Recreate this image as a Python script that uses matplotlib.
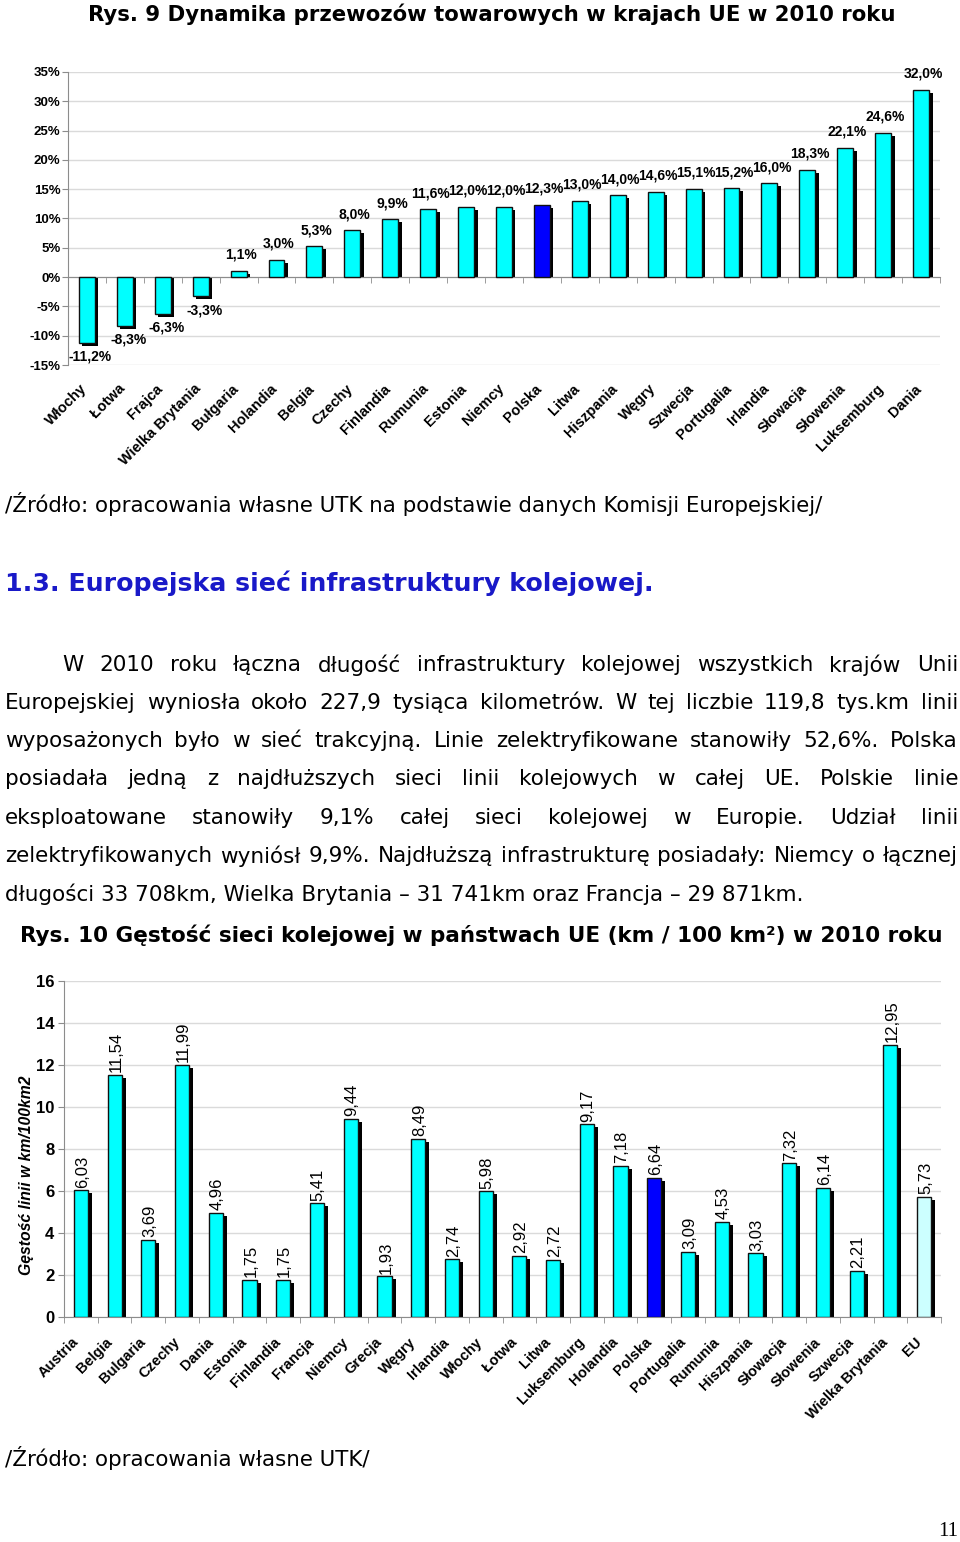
import matplotlib
matplotlib.use('Agg')
import matplotlib.pyplot as plt
import matplotlib.transforms as mtransforms
from matplotlib.ticker import FixedLocator

# ---------------- data ----------------
c1_countries = ['Włochy', 'Łotwa', 'Frajca', 'Wielka Brytania', 'Bułgaria', 'Holandia',
                'Belgia', 'Czechy', 'Finlandia', 'Rumunia', 'Estonia', 'Niemcy', 'Polska',
                'Litwa', 'Hiszpania', 'Węgry', 'Szwecja', 'Portugalia', 'Irlandia',
                'Słowacja', 'Słowenia', 'Luksemburg', 'Dania']
c1_values = [-11.2, -8.3, -6.3, -3.3, 1.1, 3.0, 5.3, 8.0, 9.9, 11.6, 12.0, 12.0, 12.3,
             13.0, 14.0, 14.6, 15.1, 15.2, 16.0, 18.3, 22.1, 24.6, 32.0]
c1_yticks = [-15, -10, -5, 0, 5, 10, 15, 20, 25, 30, 35]
c1_ytick_labels = ['-15%', '-10%', '-5%', '0%', '5%', '10%', '15%', '20%', '25%', '30%', '35%']

c2_countries = ['Austria', 'Belgia', 'Bulgaria', 'Czechy', 'Dania', 'Estonia', 'Finlandia',
                'Francja', 'Niemcy', 'Grecja', 'Węgry', 'Irlandia', 'Włochy', 'Łotwa', 'Litwa',
                'Luksemburg', 'Holandia', 'Polska', 'Portugalia', 'Rumunia', 'Hiszpania',
                'Słowacja', 'Słowenia', 'Szwecja', 'Wielka Brytania', 'EU']
c2_values = [6.03, 11.54, 3.69, 11.99, 4.96, 1.75, 1.75, 5.41, 9.44, 1.93, 8.49, 2.74, 5.98,
             2.92, 2.72, 9.17, 7.18, 6.64, 3.09, 4.53, 3.03, 7.32, 6.14, 2.21, 12.95, 5.73]
c2_yticks = [0, 2, 4, 6, 8, 10, 12, 14, 16]

title1 = 'Rys. 9 Dynamika przewozów towarowych w krajach UE w 2010 roku'
source1 = '/Źródło: opracowania własne UTK na podstawie danych Komisji Europejskiej/'
heading = '1.3. Europejska sieć infrastruktury kolejowej.'
para_lines = [
    'W 2010 roku łączna długość infrastruktury kolejowej wszystkich krajów Unii',
    'Europejskiej wyniosła około 227,9 tysiąca kilometrów. W tej liczbie 119,8 tys.km linii',
    'wyposażonych było w sieć trakcyjną. Linie zelektryfikowane stanowiły 52,6%. Polska',
    'posiadała jedną z najdłuższych sieci linii kolejowych w całej UE. Polskie linie',
    'eksploatowane stanowiły 9,1% całej sieci kolejowej w Europie. Udział linii',
    'zelektryfikowanych wyniósł 9,9%. Najdłuższą infrastrukturę posiadały: Niemcy o łącznej',
    'długości 33 708km, Wielka Brytania – 31 741km oraz Francja – 29 871km.',
]
title2 = 'Rys. 10 Gęstość sieci kolejowej w państwach UE (km / 100 km²) w 2010 roku'
ylabel2 = 'Gęstość linii w km/100km2'
source2 = '/Źródło: opracowania własne UTK/'
page_no = '11'

# ---------------- figure ----------------
W, H, DPI = 960, 1542, 100
fig = plt.figure(figsize=(W / DPI, H / DPI), dpi=DPI)
renderer = fig.canvas.get_renderer()

CYAN = '#00FFFF'
BLUE = '#0000FF'
EUC = '#CCFFFF'
GRID = '#DADADA'
AXC = '#8C8C8C'
CHART_FONT = 'Liberation Sans'
TEXT_FONT = 'DejaVu Sans'


def px_axes(left, top, right, bottom):
    return fig.add_axes([left / W, 1 - bottom / H, (right - left) / W, (bottom - top) / H])


def fit_text(x, y, s, target_w, ha='left', va='center', **kw):
    t = fig.text(x / W, 1 - y / H, s, fontsize=10, ha=ha, va=va, **kw)
    w = t.get_window_extent(renderer).width
    t.set_fontsize(10 * target_w / w)
    return t


def draw_bars(ax, x, vals, colors, width, dx_px, dy_px):
    # shadow: shifted right by dx_px and its value end pushed down by dy_px
    ax_h = ax.get_window_extent(renderer).height
    y0, y1 = ax.get_ylim()
    d = dy_px * (y1 - y0) / ax_h
    tf = ax.transData + mtransforms.ScaledTranslation(dx_px / DPI, 0, fig.dpi_scale_trans)
    ax.bar(x, [v - d for v in vals], width=width, color='black', transform=tf, zorder=2)
    ax.bar(x, vals, width=width, color=colors, edgecolor='#111111', linewidth=1.0, zorder=3)


# ---------------- chart 1 ----------------
fit_text(492, 14, title1, 809, ha='center', family=TEXT_FONT, weight='bold')

ax1 = px_axes(68, 72, 940, 365)
n1 = len(c1_countries)
x1 = list(range(n1))
ax1.set_xlim(-0.5, n1 - 0.5)
ax1.set_ylim(-15, 35)
cols1 = [BLUE if c == 'Polska' else CYAN for c in c1_countries]
draw_bars(ax1, x1, c1_values, cols1, 0.42, 3.5, 3)
ax1.set_yticks(c1_yticks)
ax1.set_yticklabels(c1_ytick_labels, fontsize=9.5, weight='bold', family=CHART_FONT)
ax1.yaxis.grid(True, color=GRID, linewidth=1.0, zorder=0)
ax1.set_axisbelow(True)
for s in ['top', 'right']:
    ax1.spines[s].set_visible(False)
ax1.spines['left'].set_color(AXC)
ax1.spines['bottom'].set_color(AXC)
ax1.spines['bottom'].set_position(('data', 0))
ax1.xaxis.set_major_locator(FixedLocator([]))
ax1.xaxis.set_minor_locator(FixedLocator([i + 0.5 for i in range(-1, n1)]))
ax1.tick_params(axis='x', which='minor', length=4, color=AXC, direction='out')
ax1.tick_params(axis='y', length=4, color=AXC, pad=1.5)
for i, (c, v) in enumerate(zip(c1_countries, c1_values)):
    lab = f'{v:.1f}%'.replace('.', ',')
    if v >= 0:
        ax1.annotate(lab, (i, v), xytext=(1.5, 6.5), textcoords='offset points', ha='center',
                     va='bottom', fontsize=10, weight='bold', family=CHART_FONT)
    else:
        ax1.annotate(lab, (i, v), xytext=(2.5, -5), textcoords='offset points', ha='center',
                     va='top', fontsize=10, weight='bold', family=CHART_FONT)
    ax1.annotate(c, (i, 0), xycoords=ax1.get_xaxis_transform(), xytext=(-5, -12),
                 textcoords='offset points', ha='right', va='top', rotation=45,
                 rotation_mode='anchor', fontsize=10.5, weight='bold', family=CHART_FONT)

# ---------------- text block ----------------
fit_text(5, 504, source1, 820, family=TEXT_FONT)
fit_text(5, 583, heading, 648, family=TEXT_FONT, weight='bold', color='#1919C8')

# paragraph font size from last (non-justified) line
line_y = [665, 703, 741, 779, 818, 856, 894]
last = fit_text(5, line_y[-1], para_lines[-1], 798, family=TEXT_FONT)
pfs = last.get_fontsize()
for k, line in enumerate(para_lines[:-1]):
    left = 62 if k == 0 else 5
    right = 958
    words = line.split(' ')
    texts = [fig.text(0, 1 - line_y[k] / H, w_, fontsize=pfs, family=TEXT_FONT, va='center')
             for w_ in words]
    widths = [t.get_window_extent(renderer).width for t in texts]
    gap = (right - left - sum(widths)) / (len(words) - 1)
    xpos = left
    for t, w_ in zip(texts, widths):
        t.set_x(xpos / W)
        xpos += w_ + gap

fit_text(20, 935, title2, 925, family=TEXT_FONT, weight='bold')

# ---------------- chart 2 ----------------
ax2 = px_axes(64, 981, 941, 1317)
n2 = len(c2_countries)
x2 = list(range(n2))
ax2.set_xlim(-0.5, n2 - 0.5)
ax2.set_ylim(0, 16)
cols2 = [BLUE if c == 'Polska' else (EUC if c == 'EU' else CYAN) for c in c2_countries]
draw_bars(ax2, x2, c2_values, cols2, 0.42, 4, 3)
ax2.set_yticks(c2_yticks)
ax2.set_yticklabels([str(v) for v in c2_yticks], fontsize=12, weight='bold', family=CHART_FONT)
ax2.yaxis.grid(True, color=GRID, linewidth=1.0, zorder=0)
ax2.set_axisbelow(True)
for s in ['top', 'right']:
    ax2.spines[s].set_visible(False)
ax2.spines['left'].set_color(AXC)
ax2.spines['bottom'].set_color(AXC)
ax2.xaxis.set_major_locator(FixedLocator([]))
ax2.xaxis.set_minor_locator(FixedLocator([i + 0.5 for i in range(-1, n2)]))
ax2.tick_params(axis='x', which='minor', length=4, color=AXC, direction='out')
ax2.tick_params(axis='y', length=4, color=AXC, pad=3)
for i, (c, v) in enumerate(zip(c2_countries, c2_values)):
    ax2.annotate(f'{v:.2f}'.replace('.', ','), (i, v), xytext=(1, 2), textcoords='offset points',
                 ha='center', va='bottom', rotation=90, fontsize=12, family=CHART_FONT)
    ax2.annotate(c, (i, 0), xycoords=ax2.get_xaxis_transform(), xytext=(-7, -13),
                 textcoords='offset points', ha='right', va='top', rotation=45,
                 rotation_mode='anchor', fontsize=10.5, weight='bold', family=CHART_FONT)

yl = fig.text(27 / W, 1 - 1175 / H, ylabel2, fontsize=10, family=CHART_FONT, weight='bold',
              style='italic', ha='center', va='center')
wl = yl.get_window_extent(renderer).width
yl.set_fontsize(10 * 200 / wl)
yl.set_rotation(90)

fit_text(5, 1458, source2, 365, family=TEXT_FONT)
fig.text(958 / W, 1 - 1531 / H, page_no, fontsize=15, family='Liberation Serif', ha='right',
         va='center')

fig.savefig('out.png', dpi=DPI)
